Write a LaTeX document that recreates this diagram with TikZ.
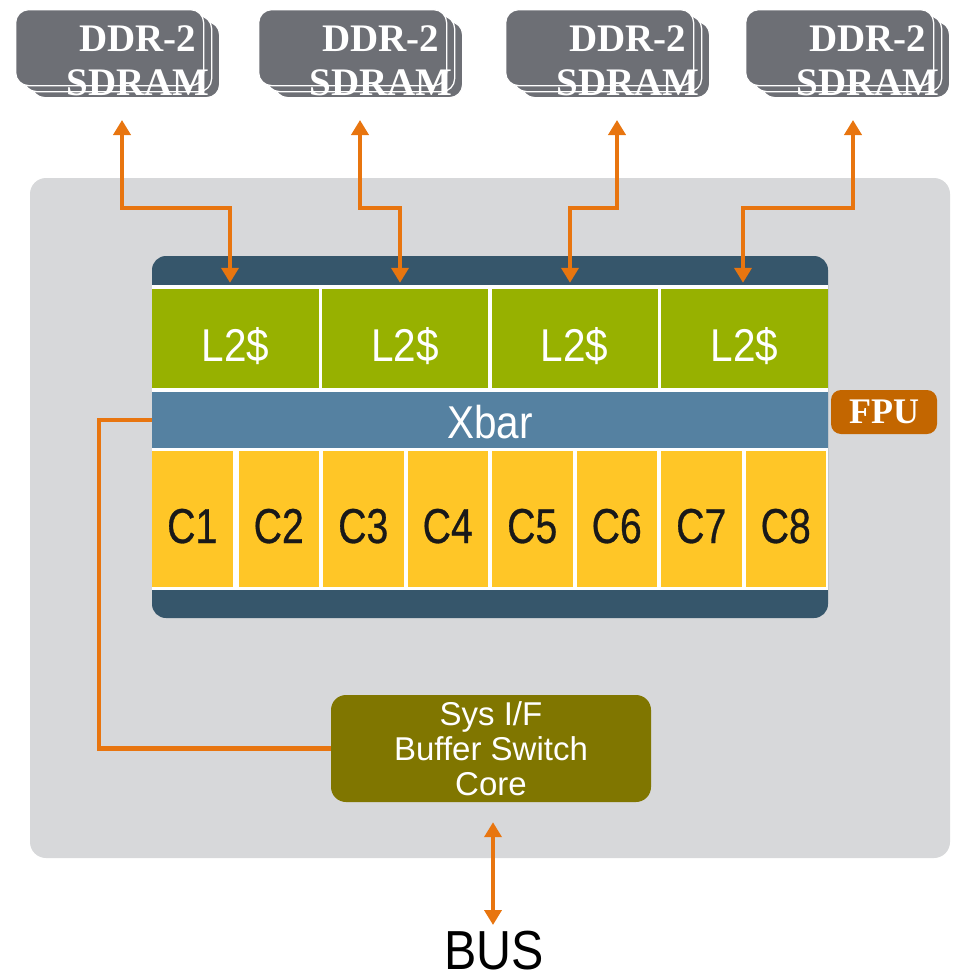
\documentclass[tikz,border=0pt]{standalone}
\usepackage{fontspec}
\usetikzlibrary{arrows.meta,calc}
\newfontfamily\labelfont{Liberation Sans}[FakeStretch=0.88]
\newfontfamily\corefont{Liberation Sans}[FakeStretch=0.8,FakeBold=0.6]
\newfontfamily\sysfont{Liberation Sans}
\newfontfamily\memfont{Liberation Serif}

\definecolor{panel}{HTML}{D7D8DA}
\definecolor{chipdark}{HTML}{36566B}
\definecolor{cachegreen}{HTML}{97B100}
\definecolor{xbarblue}{HTML}{5581A1}
\definecolor{coreyellow}{HTML}{FFC627}
\definecolor{linkorange}{HTML}{E8750F}
\definecolor{sysolive}{HTML}{807600}
\definecolor{fpuorange}{HTML}{C36600}
\definecolor{memgray}{HTML}{6D6F75}

\tikzset{
  memcard/.style={fill=memgray, draw=white, line width=1.3pt, rounded corners=13pt,
    minimum width=188pt, minimum height=76pt, inner sep=0pt, anchor=north west},
  memtext/.style={text=white, font=\memfont\bfseries\fontsize{39}{40}\selectfont,
    anchor=base, inner sep=0pt},
  cachecell/.style={fill=cachegreen, minimum width=166pt, minimum height=99pt,
    inner sep=0pt, text=white, font=\labelfont\fontsize{46}{46}\selectfont,
    text height=45pt, text depth=0pt},
  corecell/.style={fill=coreyellow, minimum width=80.5pt, minimum height=136pt,
    inner sep=0pt, text=black!90, font=\corefont\fontsize{49}{49}\selectfont,
    text height=48pt, text depth=0pt},
  bilink/.style={draw=linkorange, line width=4.2pt,
    {Triangle[width=17pt,length=15pt]}-{Triangle[width=17pt,length=15pt]}},
  plainlink/.style={draw=linkorange, line width=4.2pt},
}

\begin{document}
\begin{tikzpicture}[x=1pt,y=-1pt]
\useasboundingbox (0,0) rectangle (958,980);

% outer chip panel
\fill[panel, rounded corners=16pt] (30,178) rectangle (950,858);

% DDR-2 memory stacks
\foreach \i/\x in {1/15, 2/258, 3/505, 4/745}{
  \node[memcard] at (\x+16,21) {};
  \node[memcard] at (\x+8,15) {};
  \node[memcard] (d\i) at (\x,9) {};
  \node[memtext] (dt\i) at (\x+123,51) {DDR-2};
  \node[memtext] (ds\i) at (\x+123,95) {SDRAM};
}

% processor block
\fill[chipdark, rounded corners=14pt] (152,256) rectangle (828,618);
\fill[white] (152,285) rectangle (828,590);

% L2 cache banks
\node[cachecell, minimum width=167pt] (l1) at (235.5,338.5) {L2\$};
\node[cachecell] (l2) at (405,338.5) {L2\$};
\node[cachecell] (l3) at (574.5,338.5) {L2\$};
\node[cachecell, minimum width=167pt] (l4) at (744.5,338.5) {L2\$};

% crossbar
\node[fill=xbarblue, minimum width=676pt, minimum height=56pt, inner sep=0pt,
      text=white, font=\labelfont\fontsize{46}{46}\selectfont,
      text height=37pt, text depth=0pt] (xbar) at (490,420) {Xbar};

% cores
\foreach \k in {1,...,8}{
  \node[corecell] (c\k) at ({152+84.5*(\k-1)+40.25+(\k==1 ? 0 : 2)},519) {C\k};
}

% FPU
\node[fill=fpuorange, rounded corners=10pt, minimum width=106pt, minimum height=44pt,
      inner sep=0pt, text=white, font=\memfont\bfseries\fontsize{36}{36}\selectfont]
      (fpu) at (884,412) {FPU};

% system interface
\node[fill=sysolive, rounded corners=15pt, minimum width=320pt, minimum height=107pt,
      inner sep=0pt, text=white, align=center,
      font=\sysfont\fontsize{33}{35}\selectfont] (sys) at (491,748.5)
      {Sys I/F\\Buffer Switch\\Core};

% bus label
\node[font=\labelfont\fontsize{55}{55}\selectfont, anchor=north, inner sep=0pt]
      (bus) at (494,931) {BUS};

% memory links
\coordinate (m1) at (122,120);
\coordinate (m2) at (360,120);
\coordinate (m3) at (617,120);
\coordinate (m4) at (853,120);
\draw[bilink] (m1) |- (230,208) -- ([xshift=-5.5pt,yshift=6pt]l1.north);
\draw[bilink] (m2) |- (400,208) -- ([xshift=-5pt,yshift=6pt]l2.north);
\draw[bilink] (m3) |- (570,208) -- ([xshift=-4.5pt,yshift=6pt]l3.north);
\draw[bilink] (m4) |- (743,208) -- ([xshift=-1.5pt,yshift=6pt]l4.north);

% crossbar to system interface
\draw[plainlink] (xbar.west) -- (99,420) |- (sys.west);

% system interface to bus
\draw[bilink] ([xshift=-1pt,yshift=-20pt]bus.north |- sys.south) -- ([xshift=-1pt,yshift=6pt]bus.north);
\end{tikzpicture}
\end{document}
